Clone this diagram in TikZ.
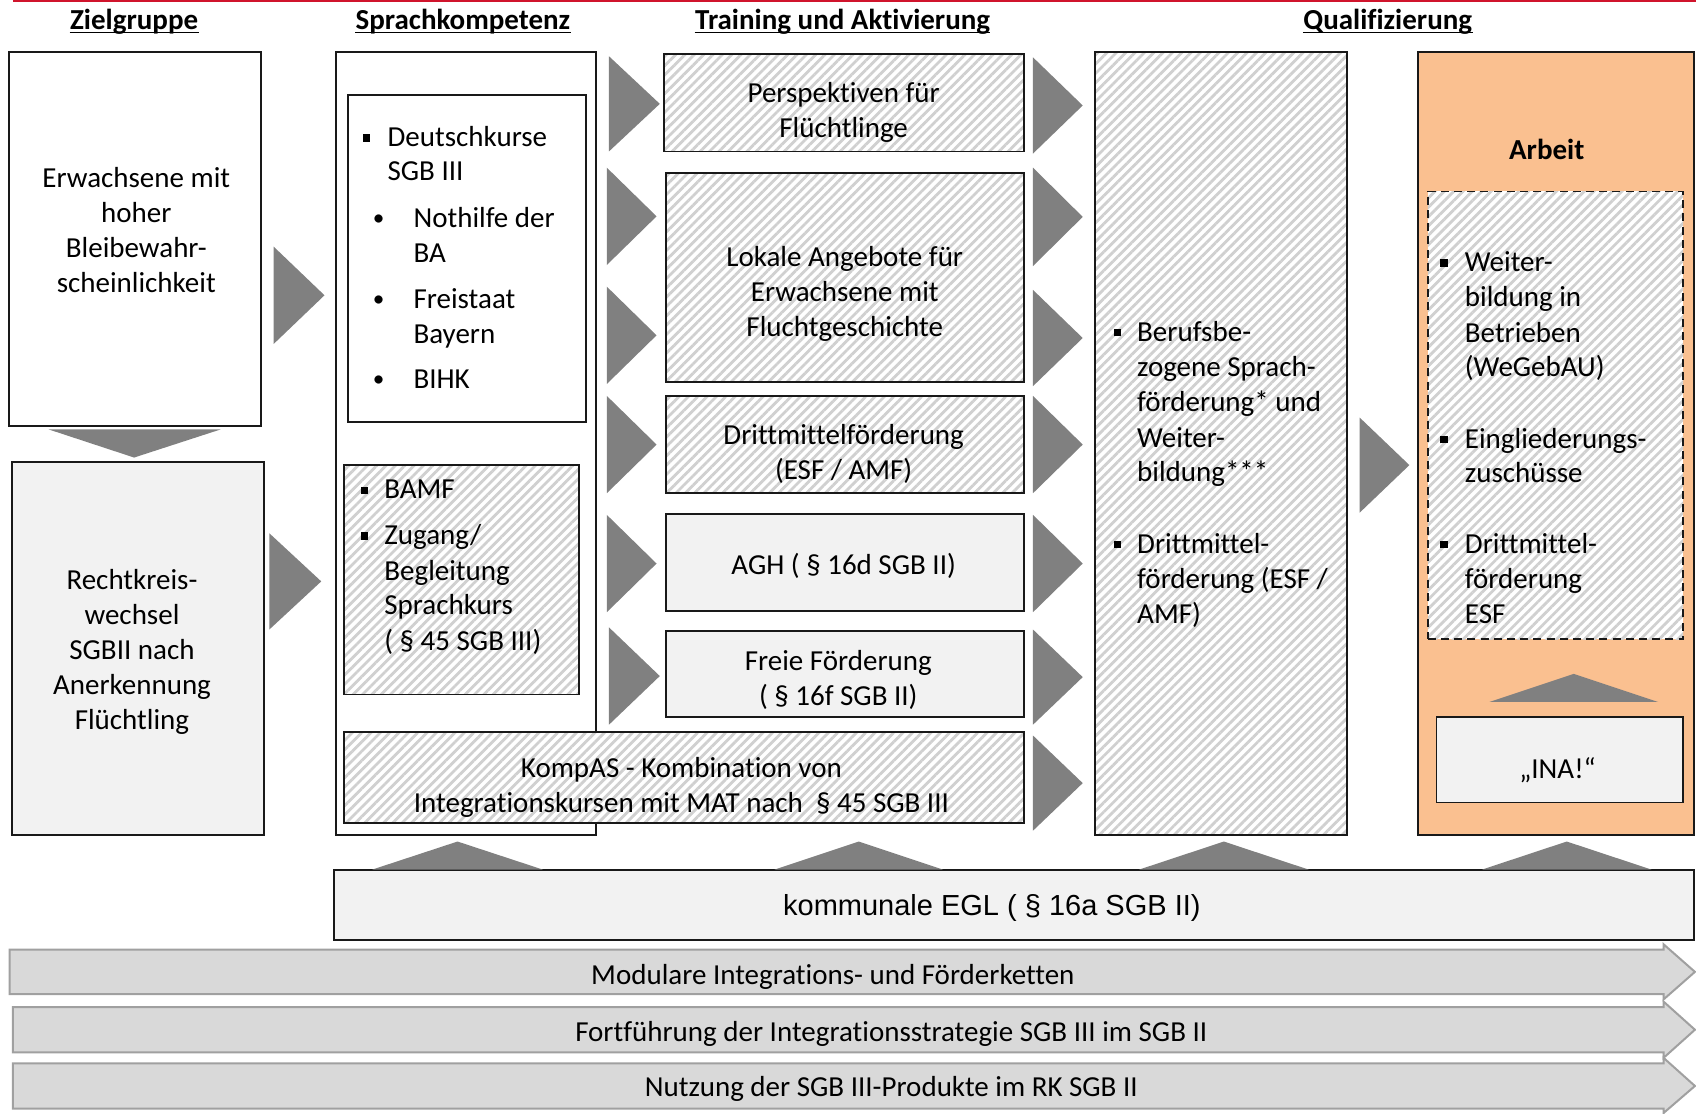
\documentclass[tikz,border=0pt]{standalone}
\usepackage{fontspec}
\setmainfont{Carlito}[Ligatures=NoCommon]
\newfontfamily\arialf{Liberation Sans}
\usetikzlibrary{patterns.meta,fit}
\definecolor{trig}{HTML}{808080}
\definecolor{lgray}{HTML}{F2F2F2}
\definecolor{bandc}{HTML}{D9D9D9}
\definecolor{bandline}{HTML}{A0A0A0}
\definecolor{orangebox}{HTML}{FAC090}
\definecolor{redline}{HTML}{D0142C}
\definecolor{hatchc}{HTML}{D0D0D0}
\newcommand\sqb{\rule[0.5pt]{3.8pt}{3.8pt}}
\newcommand\rbul{\scalebox{0.8}{\textbullet}}
\begin{document}
\begin{tikzpicture}[x=0.5408pt,y=-0.5408pt,
  box/.style={draw=black!90, line width=0.9pt, inner sep=0pt},
  wbox/.style={box, fill=white},
  gbox/.style={box, fill=lgray},
  hbox/.style={box, preaction={fill=white}, pattern={Lines[angle=45,distance=3.3pt,line width=1.4pt]}, pattern color=hatchc},
  tx/.style={font=\fontsize{14.5}{17.6}\selectfont, inner sep=0pt, align=center, yshift=-1.5pt},
  tl/.style={tx, align=left, anchor=west},
  bul/.style={tx, anchor=center},
  hd/.style={font=\fontsize{14.5}{17.6}\selectfont\bfseries, inner sep=0pt, anchor=base},
  trif/.style={fill=trig, draw=none},
  bandst/.style={fill=bandc, draw=bandline, line width=1pt}
]
\useasboundingbox (0,0) rectangle (1568,1029);
\fill[white] (0,0) rectangle (1568,1029);
\draw[redline, line width=1.1pt] (12,0.9) -- (1568,0.9);

% headers
\foreach \nm/\x/\t in {h1/124/Zielgruppe, h2/428/Sprachkompetenz, h3/779/Training und Aktivierung, h4/1283/Qualifizierung}{
  \node[hd] (\nm) at (\x,27) {\t};
  \draw[line width=0.8pt] ([yshift=-1.6pt]\nm.base west) -- ([yshift=-1.6pt]\nm.base east);
}

% Zielgruppe column
\node[wbox, fit={(8,48) (241,394)}] (za) {};
\node[tx] (zat) at (126,210) {Erwachsene mit\\hoher\\Bleibewahr-\\scheinlichkeit};
\node[gbox, fit={(11,427) (244,772)}] (zb) {};
\node[tx] (zbt) at (122,600) {Rechtkreis-\\wechsel\\SGBII nach\\Anerkennung\\Flüchtling};

% Sprachkompetenz column
\node[wbox, fit={(311,48) (551,772)}] (sk) {};
\node[wbox, fit={(322,88) (542,390)}] (dk) {};
\node[bul] (dkb1) at (339,125) {\sqb};
\node[tl] (dk1) at (358,126) {\strut Deutschkurse};
\node[tl] (dk2) at (358,158) {\strut SGB III};
\node[bul] (dkb2) at (350,201) {\rbul};
\node[bul] (dkb3) at (350,276) {\rbul};
\node[bul] (dkb4) at (350,350) {\rbul};
\node[tl] (dk3) at (382,201) {\strut Nothilfe der};
\node[tl] (dk4) at (382,233) {\strut BA};
\node[tl] (dk5) at (382,276) {\strut Freistaat};
\node[tl] (dk6) at (382,308) {\strut Bayern};
\node[tl] (dk7) at (382,350) {\strut BIHK};

\node[hbox, fit={(318,430) (535,642)}] (bm) {};
\node[bul] (bmb1) at (337,451) {\sqb};
\node[bul] (bmb2) at (337,493) {\sqb};
\node[tl] (bm1) at (355,452) {\strut BAMF};
\node[tl] (bm2) at (355,494) {\strut Zugang/};
\node[tl] (bm3) at (355,527) {\strut Begleitung};
\node[tl] (bm4) at (355,559) {\strut Sprachkurs};
\node[tl] (bm5) at (355,592) {\strut ( § 45 SGB III)};

\node[hbox, fit={(318,677) (947,761)}] (ko) {};
\node[tx] (kot) at (630,725) {KompAS - Kombination von\\Integrationskursen mit MAT nach \ § 45 SGB III};

% Training column
\node[hbox, fit={(614,50) (947,140)}] (t1) {};
\node[tx] (t1t) at (780,101) {Perspektiven für\\Flüchtlinge};
\node[hbox, fit={(616,160) (947,353)}] (t2) {};
\node[tx] (t2t) at (781,269) {Lokale Angebote für\\Erwachsene mit\\Fluchtgeschichte};
\node[hbox, fit={(616,366) (947,456)}] (t3) {};
\node[tx] (t3t) at (780,417) {Drittmittelförderung\\(ESF / AMF)};
\node[gbox, fit={(616,475) (947,565)}] (t4) {};
\node[tx] (t4t) at (780,520) {AGH ( § 16d SGB II)};
\node[gbox, fit={(616,583) (947,663)}] (t5) {};
\node[tx] (t5t) at (775,626) {Freie Förderung\\( § 16f SGB II)};

% Qualifizierung column
\node[hbox, fit={(1012,48) (1245,772)}] (q) {};
\node[bul] (qb1) at (1033,305) {\sqb};
\node[bul] (qb2) at (1033,501) {\sqb};
\node[tl] (q1) at (1051,306) {\strut Berufsbe-};
\node[tl] (q2) at (1051,339) {\strut zogene Sprach-};
\node[tl] (q3) at (1051,371) {\strut förderung* und};
\node[tl] (q4) at (1051,404) {\strut Weiter-};
\node[tl] (q5) at (1051,436) {\strut bildung***};
\node[tl] (q6) at (1051,502) {\strut Drittmittel-};
\node[tl] (q7) at (1051,535) {\strut förderung (ESF /};
\node[tl] (q8) at (1051,567) {\strut AMF)};

% Arbeit column
\node[box, fill=orangebox, fit={(1311,48) (1566,772)}] (ar) {};
\node[tx, font=\fontsize{14.5}{17.6}\selectfont\bfseries] (art) at (1430,135) {Arbeit};
\node[hbox, dashed, dash pattern=on 4pt off 2.6pt, fit={(1320,177) (1556,591)}] (ad) {};
\node[bul] (adb1) at (1335,241) {\sqb};
\node[bul] (adb2) at (1335,404) {\sqb};
\node[bul] (adb3) at (1335,501) {\sqb};
\node[tl] (ad1) at (1354,242) {\strut Weiter-};
\node[tl] (ad2) at (1354,274) {\strut bildung in};
\node[tl] (ad3) at (1354,307) {\strut Betrieben};
\node[tl] (ad4) at (1354,339) {\strut (WeGebAU)};
\node[tl] (ad5) at (1354,405) {\strut Eingliederungs-};
\node[tl] (ad6) at (1354,437) {\strut zuschüsse};
\node[tl] (ad7) at (1354,502) {\strut Drittmittel-};
\node[tl] (ad8) at (1354,535) {\strut förderung};
\node[tl] (ad9) at (1354,567) {\strut ESF};
\node[gbox, fit={(1328,663) (1556,742)}] (ina) {};
\node[tx] (inat) at (1440,709) {„INA!“};

% EGL
\node[gbox, fit={(309,804) (1566,869)}] (egl) {};
\node[tx, font=\arialf\fontsize{14.5}{17.6}\selectfont] (eglt) at (917,837) {kommunale EGL ( § 16a SGB II)};

% right-pointing triangles
\foreach \lx/\ty/\by/\ax in {253/228/318/300, 249/493/582/297,
  563/52/140/610, 561/155/245/607, 561/265/355/607, 561/366/456/607, 561/476/566/607, 563/580/670/610,
  955/53/142/1001, 955/155/246/1001, 955/268/357/1001, 955/366/456/1001, 955/476/566/1001, 955/582/670/1001, 955/680/768/1001,
  1257/386/474/1303}{
  \fill[trif] (\lx,\ty) -- (\lx,\by) -- (\ax,{(\ty+\by)/2}) -- cycle;
}
% down triangle
\fill[trif] (45,397) -- (204,397) -- (124,423) -- cycle;
% up triangles
\foreach \l/\r/\b/\t in {344/502/804/778, 716/872/804/778, 1053/1210/804/778, 1370/1527/804/778, 1377/1533/649/623}{
  \fill[trif] (\l,\b) -- (\r,\b) -- ({(\l+\r)/2},\t) -- cycle;
}

% bottom bands
\draw[bandst] (9,878) -- (1538,878) -- (1538,873) -- (1567,898.5) -- (1538,924) -- (1538,919) -- (9,919) -- cycle;
\node[tx] (b1) at (770,900) {Modulare Integrations- und Förderketten};
\draw[bandst] (12,931) -- (1538,931) -- (1538,926) -- (1567,952) -- (1538,978) -- (1538,973) -- (12,973) -- cycle;
\node[tx] (b2) at (824,953) {Fortführung der Integrationsstrategie SGB III im SGB II};
\draw[bandst] (12,983) -- (1538,983) -- (1538,978) -- (1567,1004) -- (1538,1029) -- (1538,1025) -- (12,1025) -- cycle;
\node[tx] (b3) at (824,1004) {Nutzung der SGB III-Produkte im RK SGB II};
\end{tikzpicture}
\end{document}
